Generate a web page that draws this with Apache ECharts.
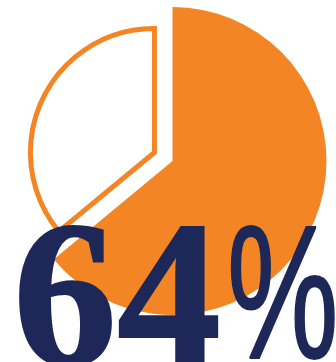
<!DOCTYPE html>
<html>
<head>
<meta charset="utf-8">
<script src="https://cdn.jsdelivr.net/npm/echarts@6/dist/echarts.min.js"></script>
<style>
  html, body { margin: 0; padding: 0; background: #ffffff; }
  #chart { width: 336px; height: 362px; }
</style>
</head>
<body>
<div id="chart"></div>
<script>
// Share of respondents, shown as a filled wedge plus an outlined, pulled-out remainder
const categories = ['Share', 'Remainder'];
const values = [64, 36];
const percentSign = '%';

const ORANGE = '#f38524';
const NAVY = '#1d2859';

const chart = echarts.init(document.getElementById('chart'), null, { renderer: 'canvas' });

// Pie geometry (pixels)
const cx = 172.5, cy = 161;
const outerR = 154;
const remainderR = 124;
const pullOut = 20;

// Pull the remainder wedge out along its own bisector
const total = values.reduce((a, b) => a + b, 0);
const midTurn = (values[0] + values[1] / 2) / total * Math.PI * 2;
const ox = Math.sin(midTurn) * pullOut;
const oy = -Math.cos(midTurn) * pullOut;

const common = {
  type: 'pie',
  startAngle: 90,
  clockwise: true,
  silent: true,
  label: { show: false },
  labelLine: { show: false },
  emphasis: { disabled: true },
  animation: false
};

chart.setOption({
  backgroundColor: '#ffffff',
  series: [
    Object.assign({}, common, {
      center: [cx, cy],
      radius: [0, outerR],
      z: 1,
      data: [
        { name: categories[0], value: values[0], itemStyle: { color: ORANGE, borderWidth: 0 } },
        { name: categories[1], value: values[1], itemStyle: { color: 'transparent', borderWidth: 0 } }
      ]
    }),
    Object.assign({}, common, {
      center: [cx + ox, cy + oy],
      radius: [0, remainderR],
      z: 2,
      data: [
        { name: categories[0], value: values[0], itemStyle: { color: 'transparent', borderWidth: 0 } },
        { name: categories[1], value: values[1], itemStyle: { color: '#ffffff', borderColor: ORANGE, borderWidth: 5, borderJoin: 'miter' } }
      ]
    })
  ],
  graphic: [
    {
      type: 'text',
      z: 10,
      left: 12,
      top: 205,
      style: {
        text: String(values[0]),
        font: 'bold 208px "Liberation Serif", "DejaVu Serif", serif',
        fill: NAVY,
        stroke: NAVY,
        lineWidth: 2
      }
    },
    {
      type: 'text',
      z: 10,
      x: 227,
      y: 211,
      scaleX: 0.66,
      style: {
        text: percentSign,
        font: '190px "Liberation Sans", "DejaVu Sans", sans-serif',
        fill: NAVY,
        stroke: NAVY,
        lineWidth: 2
      }
    }
  ]
});
</script>
</body>
</html>
